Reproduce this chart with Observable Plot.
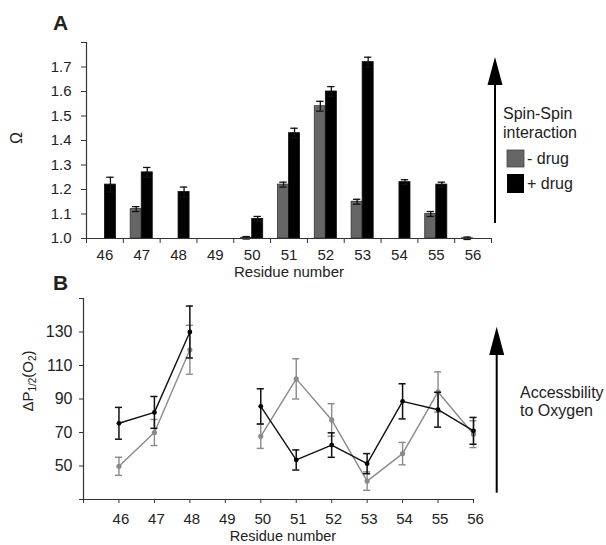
<!DOCTYPE html>
<html><head><meta charset="utf-8">
<script src="https://cdn.jsdelivr.net/npm/d3@7"></script>
<script src="https://cdn.jsdelivr.net/npm/@observablehq/plot@0.6"></script>
<style>
body{margin:0;background:#fff;font-family:"Liberation Sans",Arial,sans-serif;}
#wrap{position:relative;width:606px;height:545px;overflow:hidden;}
#wrap > svg, #wrap > div{position:absolute;left:0;}
</style></head><body><div id="wrap"></div>
<script>
// ---- Data ----
const residues = [46, 47, 48, 49, 50, 51, 52, 53, 54, 55, 56];
// Panel A: Omega (spin-spin interaction)
const omegaMinus    = [null, 1.12, null, null, 1.003, 1.22, 1.54, 1.15, null, 1.10, 1.001];
const omegaMinusErr = [null, 0.01, null, null, 0.005, 0.01, 0.02, 0.01, null, 0.01, 0.005];
const omegaPlus     = [1.22, 1.27, 1.19, null, 1.08, 1.43, 1.60, 1.72, 1.23, 1.22, null];
const omegaPlusErr  = [0.03, 0.02, 0.02, null, 0.01, 0.02, 0.02, 0.02, 0.01, 0.01, null];
const omegaTicks = [1.0, 1.1, 1.2, 1.3, 1.4, 1.5, 1.6, 1.7, 1.8];
// Panel B: accessibility to oxygen
const accPlus     = [75.5, 82, 130, null, 85.6, 53.6, 62.5, 51.4, 88.6, 83.6, 71];
const accPlusErr  = [9.5, 9.5, 15.5, null, 10.5, 6, 7.3, 6, 10.5, 10.4, 8];
const accMinus    = [49.8, 70, 119.4, null, 67.7, 102, 77.5, 41, 57.4, 94.2, 69];
const accMinusErr = [5.4, 7.8, 14.6, null, 7.2, 12, 9.7, 5.5, 6.7, 12, 8];
const accTicks = [30, 50, 70, 90, 110, 130, 150];

// ---- Tables ----
const mk = (vals, errs) => residues.map((r, i) => ({residue: r, v: vals[i], e: errs[i]}));
const aMinus = mk(omegaMinus, omegaMinusErr).filter(d => d.v != null);
const aPlus = mk(omegaPlus, omegaPlusErr).filter(d => d.v != null);
const bPlus = mk(accPlus, accPlusErr);
const bMinus = mk(accMinus, accMinusErr);
const first = residues[0], last = residues[residues.length - 1];
const bandBounds = [...residues.map(r => r - 0.5), last + 0.5];
const bTicks = [first - 1, ...residues];

const font = '"Liberation Sans", Arial, sans-serif';
const W = 0.3, CAP = 0.1;

function errMarks(data, xf, color, sw) {
  const d = data.filter(x => x.v != null);
  return [
    Plot.ruleX(d, {x: xf, y1: x => x.v - x.e, y2: x => x.v + x.e, stroke: color, strokeWidth: sw}),
    Plot.ruleY(d, {x1: x => xf(x) - CAP, x2: x => xf(x) + CAP, y: x => x.v + x.e, stroke: color, strokeWidth: sw}),
    Plot.ruleY(d, {x1: x => xf(x) - CAP, x2: x => xf(x) + CAP, y: x => x.v - x.e, stroke: color, strokeWidth: sw})
  ];
}

const plotA = Plot.plot({
  width: 606, height: 280,
  marginLeft: 86, marginRight: 115, marginTop: 42, marginBottom: 42,
  style: {fontFamily: font, color: "#222", background: "transparent", overflow: "visible"},
  x: {type: "linear", domain: [first - 0.5, last + 0.5]},
  y: {domain: [omegaTicks[0], omegaTicks[omegaTicks.length - 1]]},
  marks: [
    Plot.rectY(aMinus, {x1: d => d.residue - W, x2: d => d.residue, y1: omegaTicks[0], y2: "v", fill: "#666", stroke: "#333", strokeWidth: 0.8}),
    Plot.rectY(aPlus, {x1: d => d.residue, x2: d => d.residue + W, y1: omegaTicks[0], y2: "v", fill: "#000", stroke: "#111", strokeWidth: 0.8}),
    ...errMarks(aMinus, d => d.residue - W / 2, "#111", 1.3),
    ...errMarks(aPlus, d => d.residue + W / 2, "#111", 1.3),
    Plot.ruleX([first - 0.5], {stroke: "#333", strokeWidth: 1.2}),
    Plot.ruleY([omegaTicks[0]], {stroke: "#333", strokeWidth: 1.2}),
    Plot.axisY({ticks: omegaTicks, tickSize: 5, tickPadding: 10, fontSize: 15, label: null,
      tickFormat: d => d > 1.75 ? "" : d.toFixed(1), stroke: "#333"}),
    Plot.axisX({ticks: bandBounds, tickSize: 5, tickFormat: () => "", label: null, stroke: "#333"}),
    Plot.axisX({ticks: residues, tickSize: 0, tickPadding: 11, fontSize: 15, label: null, tickFormat: d => String(d)})
  ]
});
plotA.style.top = "0px";

const plotB = Plot.plot({
  width: 606, height: 265,
  marginLeft: 83, marginRight: 133, marginTop: 18, marginBottom: 46,
  style: {fontFamily: font, color: "#222", background: "transparent", overflow: "visible"},
  x: {type: "linear", domain: [first - 1, last]},
  y: {domain: [accTicks[0], accTicks[accTicks.length - 1]]},
  marks: [
    Plot.line(bMinus, {x: "residue", y: "v", stroke: "#8a8a8a", strokeWidth: 1.4}),
    ...errMarks(bMinus, d => d.residue, "#8a8a8a", 1.4),
    Plot.dot(bMinus.filter(d => d.v != null), {x: "residue", y: "v", r: 2.6, fill: "#8a8a8a"}),
    Plot.line(bPlus, {x: "residue", y: "v", stroke: "#111", strokeWidth: 1.4}),
    ...errMarks(bPlus, d => d.residue, "#111", 1.5),
    Plot.dot(bPlus.filter(d => d.v != null), {x: "residue", y: "v", r: 2.4, fill: "#000"}),
    Plot.ruleX([first - 1], {stroke: "#333", strokeWidth: 1.2}),
    Plot.ruleY([accTicks[0]], {stroke: "#333", strokeWidth: 1.2}),
    Plot.axisY({ticks: accTicks, tickSize: 4, tickPadding: 7, fontSize: 16, label: null,
      tickFormat: d => (d === accTicks[0] || d === accTicks[accTicks.length - 1]) ? "" : String(d), stroke: "#333"}),
    Plot.axisX({ticks: bTicks, tickSize: 4, tickFormat: () => "", label: null, stroke: "#333"}),
    Plot.axisX({ticks: residues, tickSize: 0, tickPadding: 14, fontSize: 15, label: null, dx: 2, tickFormat: d => String(d)})
  ]
});
plotB.style.top = "280px";

const wrap = document.getElementById("wrap");
wrap.appendChild(plotA);
wrap.appendChild(plotB);

// ---- Annotations overlay ----
const ns = "http://www.w3.org/2000/svg";
const ov = document.createElementNS(ns, "svg");
ov.setAttribute("width", 606); ov.setAttribute("height", 545);
ov.style.top = "0px"; ov.style.pointerEvents = "none";
ov.setAttribute("font-family", font);
ov.innerHTML = `
  <g fill="#222">
    <text x="53" y="30" font-size="21" font-weight="bold">A</text>
    <text x="53" y="290" font-size="21" font-weight="bold">B</text>
    <text transform="translate(22,138) rotate(-90)" text-anchor="middle" font-size="16">Ω</text>
    <text x="289" y="277" text-anchor="middle" font-size="15">Residue number</text>
    <text x="283" y="541" text-anchor="middle" font-size="14.5">Residue number</text>
    <text transform="translate(33,381) rotate(-90)" text-anchor="middle" font-size="15">ΔP<tspan font-size="10" dy="3">1/2</tspan><tspan dy="-3">(O</tspan><tspan font-size="10" dy="3">2</tspan><tspan dy="-3">)</tspan></text>
    <text x="503" y="119" font-size="16">Spin-Spin</text>
    <text x="503" y="138" font-size="16">interaction</text>
    <rect x="507" y="150" width="17" height="17" fill="#666" stroke="#444" stroke-width="0.8"></rect>
    <text x="527" y="164" font-size="16">- drug</text>
    <rect x="507" y="174" width="17" height="19" fill="#000"></rect>
    <text x="527" y="189" font-size="16">+ drug</text>
    <text x="520" y="398" font-size="16">Accessbility</text>
    <text x="520" y="416" font-size="16">to Oxygen</text>
  </g>
  <g stroke="#000" stroke-width="2">
    <line x1="495" y1="223" x2="495" y2="82"></line>
    <line x1="496.7" y1="492.7" x2="496.7" y2="352"></line>
  </g>
  <g fill="#000">
    <polygon points="495,57 487.5,85 502.5,85"></polygon>
    <polygon points="496.7,326.7 489.2,355 504.2,355"></polygon>
  </g>`;
wrap.appendChild(ov);
</script>
</body></html>
